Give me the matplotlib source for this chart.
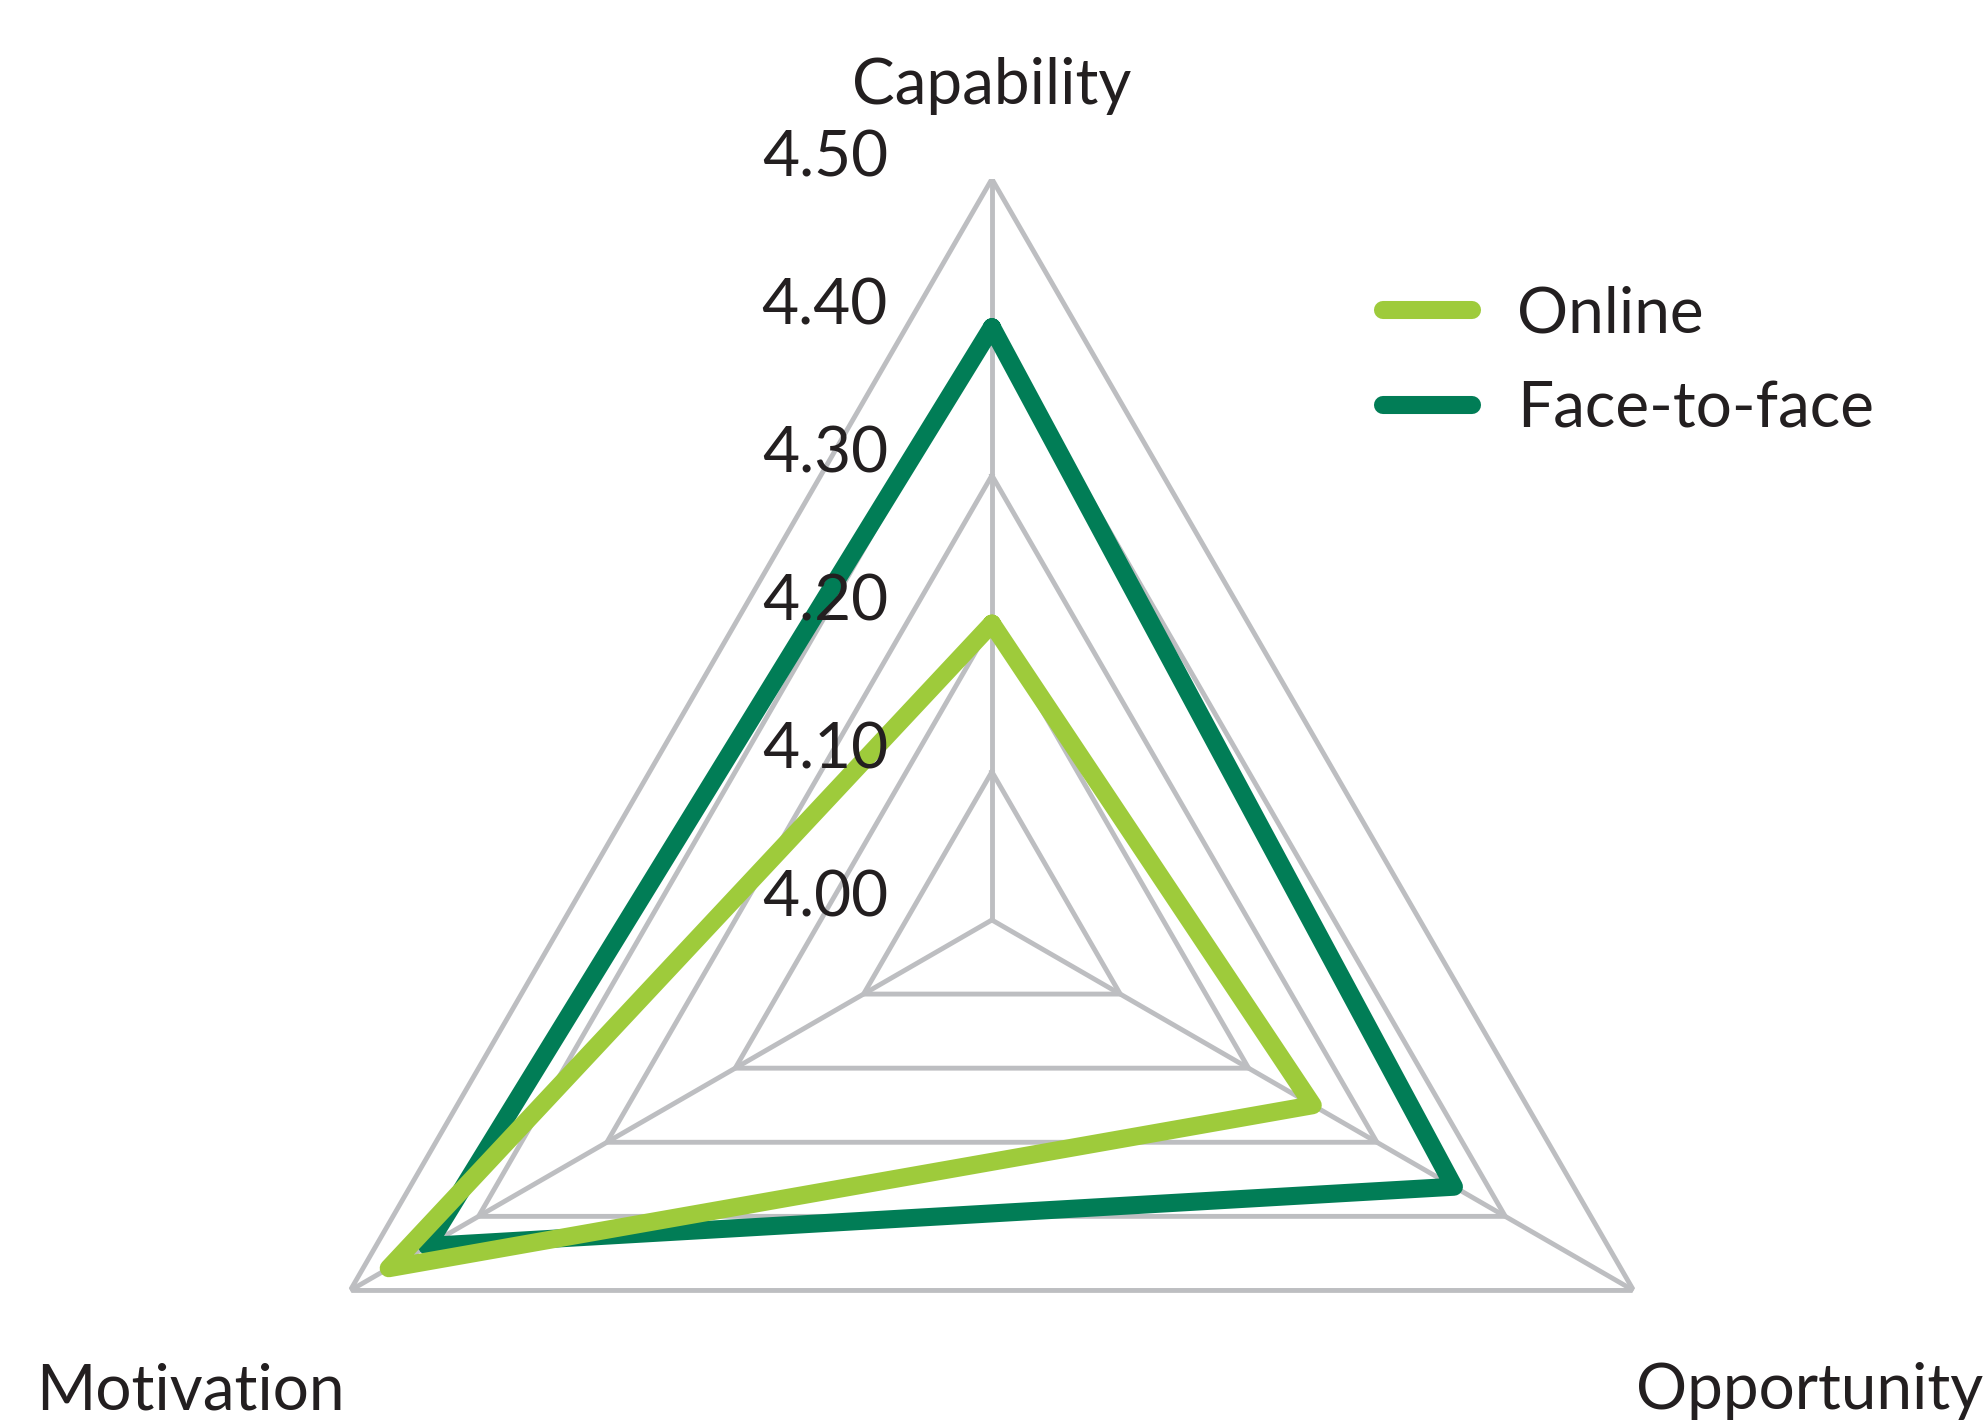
import numpy as np
import matplotlib.pyplot as plt
from matplotlib.lines import Line2D

#################### Data ####################
CATEGORIES = ['Capability', 'Opportunity', 'Motivation']
ONLINE = [4.20, 4.25, 4.47]
FACE_TO_FACE = [4.40, 4.36, 4.44]
RING_VALUES = [4.10, 4.20, 4.30, 4.40, 4.50]
TICK_VALUES = [4.00, 4.10, 4.20, 4.30, 4.40, 4.50]
TICK_LABELS = ['4.00', '4.10', '4.20', '4.30', '4.40', '4.50']
R_MIN, R_MAX = 4.0, 4.5
#################### Data ####################

LIGHT_GREEN = '#9ECB3B'
DARK_GREEN = '#017D56'
GRID_GREY = '#BDBEC1'
TEXT_COL = '#231F20'
FONT = 'Lato'
FS = 46
LW = 13

plt.rcParams['font.family'] = [FONT, 'DejaVu Sans']

fig = plt.figure(figsize=(19.87, 14.25), dpi=100)
# polar axes sized so that the outer ring has radius ~741 px, centred at (992, 920)
ax = fig.add_axes([0.1263, -0.1656, 0.7458, 1.04], projection='polar')
ax.set_theta_offset(np.pi / 2)
ax.set_theta_direction(-1)
ax.set_ylim(R_MIN, R_MAX)
ax.grid(False)
ax.set_xticks([])
ax.set_yticks([])
ax.spines['polar'].set_visible(False)
ax.patch.set_alpha(0)

angles = np.linspace(0, 2 * np.pi, len(CATEGORIES), endpoint=False)
closed = np.append(angles, angles[0])

# triangular grid
for v in RING_VALUES:
    ax.plot(closed, [v] * len(closed), color=GRID_GREY, lw=3.5, zorder=1,
            solid_joinstyle='miter')
for a in angles:
    ax.plot([a, a], [R_MIN, R_MAX], color=GRID_GREY, lw=3.5, zorder=1)

def close(vals):
    return list(vals) + [vals[0]]

ax.plot(closed, close(FACE_TO_FACE), color=DARK_GREEN, lw=LW,
        solid_joinstyle='round', solid_capstyle='round', zorder=3)
ax.plot(closed, close(ONLINE), color=LIGHT_GREEN, lw=LW,
        solid_joinstyle='round', solid_capstyle='round', zorder=4)

# radial tick labels
for v, lab in zip(TICK_VALUES, TICK_LABELS):
    ax.annotate(lab, xy=(0, v), xytext=(-104, 21), textcoords='offset pixels',
                ha='right', va='center', fontsize=FS, color=TEXT_COL,
                annotation_clip=False, zorder=5)

# category labels
offsets = [(0, 93, 'center'), (176, -101, 'center'), (-160, -101, 'center')]
for a, name, (dx, dy, ha) in zip(angles, CATEGORIES, offsets):
    ax.annotate(name, xy=(a, R_MAX), xytext=(dx, dy), textcoords='offset pixels',
                ha=ha, va='center', fontsize=FS, color=TEXT_COL,
                annotation_clip=False)

handles = [Line2D([0], [0], color=LIGHT_GREEN, lw=LW, solid_capstyle='round'),
           Line2D([0], [0], color=DARK_GREEN, lw=LW, solid_capstyle='round')]
leg = fig.legend(handles, ['Online', 'Face-to-face'], loc='center left',
                 bbox_to_anchor=(0.696, 0.746), frameon=False, fontsize=FS,
                 handlelength=1.4, handletextpad=0.7, labelspacing=0.58,
                 borderpad=0, borderaxespad=0)
for t in leg.get_texts():
    t.set_color(TEXT_COL)

fig.savefig('out.png', dpi=100)
